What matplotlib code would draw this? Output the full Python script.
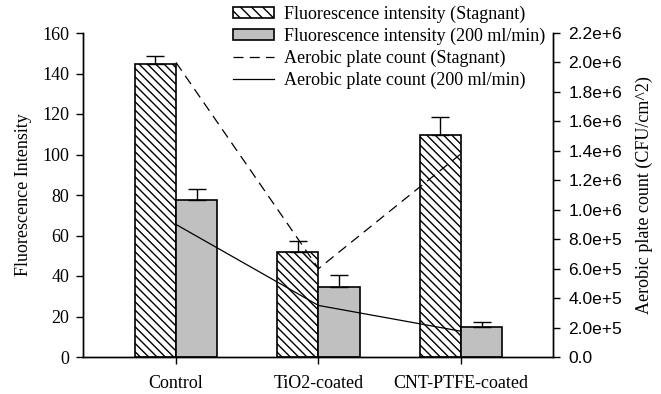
import numpy as np
import matplotlib
matplotlib.use("Agg")
import matplotlib.pyplot as plt
from matplotlib.ticker import FuncFormatter
from matplotlib.patches import Patch
from matplotlib.lines import Line2D

categories = ["Control", "TiO2-coated", "CNT-PTFE-coated"]
fluor_stagnant = [144.5, 52.0, 109.5]
fluor_stagnant_err = [4.0, 5.5, 9.0]
fluor_flow = [77.5, 34.5, 15.0]
fluor_flow_err = [5.5, 6.0, 2.5]
apc_stagnant = [2.0e6, 6.0e5, 1.38e6]
apc_flow = [9.0e5, 3.5e5, 1.75e5]

SERIF = "Liberation Serif"
SANS = "Liberation Sans"
FS = 13
plt.rcParams["hatch.linewidth"] = 1.0

fig = plt.figure(figsize=(6.61, 3.94), dpi=100)
ax = fig.add_axes([83 / 661, 1 - 357 / 394, 470 / 661, 324 / 394])
ax2 = ax.twinx()

x = np.arange(len(categories))
w = 0.288
ax.bar(x - w / 2, fluor_stagnant, w, facecolor="white", edgecolor="black",
       hatch="\\\\\\\\", linewidth=1.2, zorder=2)
ax.bar(x + w / 2, fluor_flow, w, facecolor="#c0c0c0", edgecolor="black",
       linewidth=1.2, zorder=2)
ax.errorbar(x - w / 2, fluor_stagnant, yerr=[np.zeros(3), fluor_stagnant_err],
            fmt="none", ecolor="black", elinewidth=1, capsize=6.5, capthick=1, zorder=3)
ax.errorbar(x + w / 2, fluor_flow, yerr=[np.zeros(3), fluor_flow_err],
            fmt="none", ecolor="black", elinewidth=1, capsize=6.5, capthick=1, zorder=3)

ax2.plot(x, apc_stagnant, color="black", lw=0.9, ls=(0, (8, 5)))
ax2.plot(x, apc_flow, color="black", lw=0.9)

ax.set_xlim(-0.6526, 2.6456)
ax.set_ylim(0, 160)
ax2.set_ylim(0, 2.2e6)
ax.set_yticks(np.arange(0, 161, 20))
ax2.set_yticks(np.arange(0, 2.21e6, 2e5))


def sci(v, pos):
    if v == 0:
        return "0.0"
    e = int(np.floor(np.log10(v) + 1e-9))
    return "%.1fe+%d" % (v / 10 ** e, e)


ax2.yaxis.set_major_formatter(FuncFormatter(sci))

ax.set_xticks(x)
ax.set_xticklabels(categories)

for a in (ax, ax2):
    a.spines["top"].set_visible(False)
    for s in a.spines.values():
        s.set_linewidth(1.0)
ax.tick_params(axis="y", direction="out", length=5, width=1, pad=5, labelsize=FS)
ax.tick_params(axis="x", direction="out", length=5, width=1, pad=8, labelsize=FS)
ax2.tick_params(axis="y", direction="out", length=5, width=1, pad=6, labelsize=12.5)
for lab in ax.get_yticklabels() + ax.get_xticklabels():
    lab.set_family(SERIF)
for lab in ax2.get_yticklabels():
    lab.set_family(SANS)

ax.set_ylabel("Fluorescence Intensity", family=SERIF, fontsize=FS, labelpad=7)
ax2.set_ylabel("Aerobic plate count (CFU/cm^2)", family=SERIF, fontsize=FS, labelpad=10)

handles = [
    Patch(facecolor="white", edgecolor="black", hatch="\\\\\\", linewidth=1.2),
    Patch(facecolor="#c0c0c0", edgecolor="black", linewidth=1.2),
    Line2D([], [], color="black", lw=0.9, ls=(0, (8, 5))),
    Line2D([], [], color="black", lw=0.9),
]
labels = ["Fluorescence intensity (Stagnant)", "Fluorescence intensity (200 ml/min)",
          "Aerobic plate count (Stagnant)", "Aerobic plate count (200 ml/min)"]
fig.legend(handles, labels, loc="upper left", bbox_to_anchor=(228 / 661, 1.0),
           frameon=False, prop={"family": SERIF, "size": FS},
           handlelength=2.27, handleheight=0.6, handletextpad=0.55,
           labelspacing=0.27, borderaxespad=0.2, borderpad=0.1)

fig.savefig("out.png", dpi=100)
